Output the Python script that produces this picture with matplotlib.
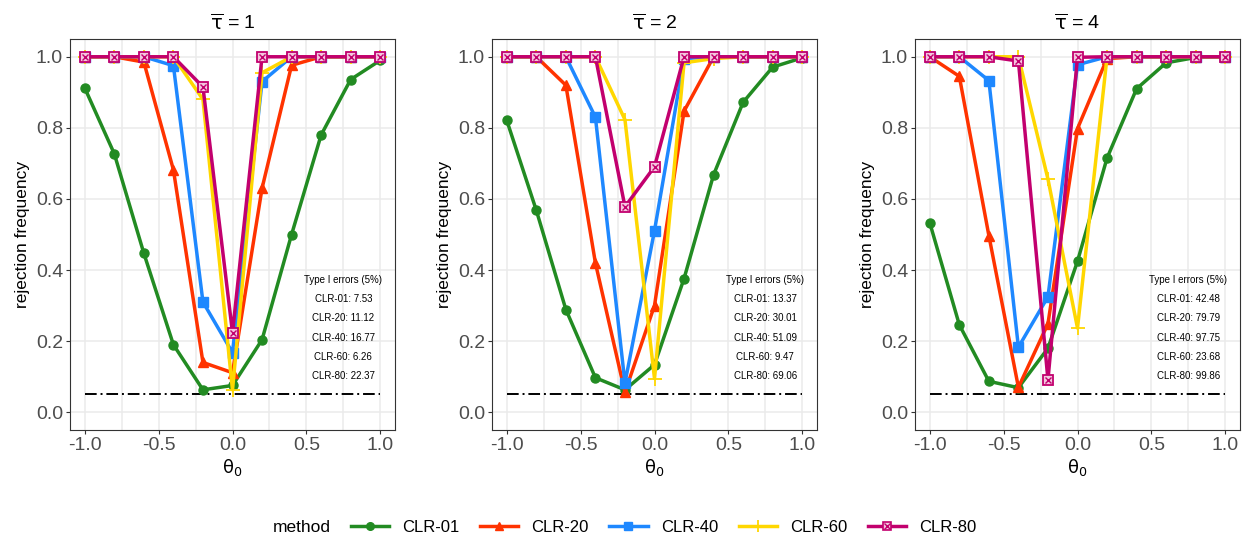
import matplotlib
matplotlib.use("Agg")
import matplotlib.pyplot as plt
from matplotlib.lines import Line2D
from matplotlib.legend_handler import HandlerTuple
import numpy as np

plt.rcParams['font.family'] = ['Liberation Sans', 'DejaVu Sans']
plt.rcParams['mathtext.fontset'] = 'dejavusans'

theta0 = [-1.0, -0.8, -0.6, -0.4, -0.2, 0.0, 0.2, 0.4, 0.6, 0.8, 1.0]
methods = ["CLR-01", "CLR-20", "CLR-40", "CLR-60", "CLR-80"]
tau_labels = ["1", "2", "4"]

# panel tau=1
p1_clr01 = [0.912, 0.727, 0.447, 0.19, 0.063, 0.0753, 0.204, 0.50, 0.78, 0.936, 0.99]
p1_clr20 = [1.0, 1.0, 0.985, 0.682, 0.14, 0.1112, 0.63, 0.976, 1.0, 1.0, 1.0]
p1_clr40 = [1.0, 1.0, 1.0, 0.975, 0.31, 0.1677, 0.93, 1.0, 1.0, 1.0, 1.0]
p1_clr60 = [1.0, 1.0, 1.0, 1.0, 0.88, 0.0626, 0.955, 1.0, 1.0, 1.0, 1.0]
p1_clr80 = [1.0, 1.0, 1.0, 1.0, 0.915, 0.2237, 1.0, 1.0, 1.0, 1.0, 1.0]
# panel tau=2
p2_clr01 = [0.821, 0.568, 0.289, 0.097, 0.063, 0.1337, 0.376, 0.668, 0.872, 0.971, 0.997]
p2_clr20 = [1.0, 1.0, 0.92, 0.42, 0.056, 0.3001, 0.847, 1.0, 1.0, 1.0, 1.0]
p2_clr40 = [1.0, 1.0, 1.0, 0.83, 0.082, 0.5109, 0.995, 1.0, 1.0, 1.0, 1.0]
p2_clr60 = [1.0, 1.0, 1.0, 1.0, 0.823, 0.0947, 0.983, 0.995, 1.0, 1.0, 1.0]
p2_clr80 = [1.0, 1.0, 1.0, 1.0, 0.578, 0.6906, 1.0, 1.0, 1.0, 1.0, 1.0]
# panel tau=4
p3_clr01 = [0.533, 0.246, 0.087, 0.069, 0.18, 0.4248, 0.715, 0.91, 0.983, 0.998, 1.0]
p3_clr20 = [1.0, 0.945, 0.497, 0.07, 0.249, 0.7979, 0.995, 1.0, 1.0, 1.0, 1.0]
p3_clr40 = [1.0, 1.0, 0.933, 0.183, 0.325, 0.9775, 1.0, 1.0, 1.0, 1.0, 1.0]
p3_clr60 = [1.0, 1.0, 1.0, 1.0, 0.656, 0.2368, 1.0, 1.0, 1.0, 1.0, 1.0]
p3_clr80 = [1.0, 1.0, 1.0, 0.988, 0.091, 0.9986, 1.0, 1.0, 1.0, 1.0, 1.0]

type1_p1 = ["7.53", "11.12", "16.77", "6.26", "22.37"]
type1_p2 = ["13.37", "30.01", "51.09", "9.47", "69.06"]
type1_p3 = ["42.48", "79.79", "97.75", "23.68", "99.86"]

panels = [
    [p1_clr01, p1_clr20, p1_clr40, p1_clr60, p1_clr80],
    [p2_clr01, p2_clr20, p2_clr40, p2_clr60, p2_clr80],
    [p3_clr01, p3_clr20, p3_clr40, p3_clr60, p3_clr80],
]
type1 = [type1_p1, type1_p2, type1_p3]

colors = ['#228B22', '#FF3300', '#1E88FF', '#FFD700', '#C2006E']
markers = ['o', '^', 's', '+', 's']

fig = plt.figure(figsize=(12.5, 5.39), dpi=100)
lefts = [70/1250, 492/1250, 915/1250]
bottom = 1 - 430/539
height = 391/539
width = 325/1250

for i, (data, t1) in enumerate(zip(panels, type1)):
    ax = fig.add_axes([lefts[i], bottom, width, height])
    ax.set_xlim(-1.1, 1.1)
    ax.set_ylim(-0.05, 1.05)
    ax.set_xticks([-1.0, -0.5, 0.0, 0.5, 1.0])
    ax.set_xticks([-0.75, -0.25, 0.25, 0.75], minor=True)
    ax.set_yticks([0.0, 0.2, 0.4, 0.6, 0.8, 1.0])
    ax.set_xticklabels(['-1.0', '-0.5', '0.0', '0.5', '1.0'])
    ax.grid(True, which='major', color='#EBEBEB', lw=1.1)
    ax.grid(True, which='minor', axis='x', color='#EBEBEB', lw=1.1)
    ax.set_axisbelow(True)
    for s in ax.spines.values():
        s.set_color('#333333')
        s.set_linewidth(0.8)
    ax.tick_params(which='major', length=3, color='#333333', labelsize=14,
                   labelcolor='#4D4D4D', pad=2)
    ax.tick_params(which='minor', length=0)
    ax.plot([-1, 1], [0.05, 0.05], color='black', ls=(0, (6, 2, 1, 2)), lw=1.4, zorder=2)
    for j, (vals, c, m) in enumerate(zip(data, colors, markers)):
        if j == 4:
            ax.plot(theta0, vals, color=c, lw=2.5, marker='s', ms=6.5, mfc='#F3C6DE',
                    mec=c, mew=1.3, zorder=3 + j)
            ax.plot(theta0, vals, ls='none', marker='x', ms=5, mec=c, mew=1.0, zorder=3 + j)
        elif j == 3:
            ax.plot(theta0, vals, color=c, lw=2.5, marker='+', ms=10, mew=1.3, zorder=3 + j)
        else:
            ax.plot(theta0, vals, color=c, lw=2.5, marker=m, ms=6.5, zorder=3 + j)
    ax.set_title(r'$\overline{\mathrm{\tau}}$ = ' + tau_labels[i], fontsize=14, pad=7)
    ax.set_xlabel(r'$\mathrm{\theta}_0$', fontsize=13, labelpad=2)
    ax.set_ylabel('rejection frequency', fontsize=12.5, labelpad=4)
    ax.text(0.75, 0.372, 'Type I errors (5%)', ha='center', va='center', fontsize=7)
    for k, (mname, v) in enumerate(zip(methods, t1)):
        ax.text(0.75, 0.318 - 0.054 * k, f'{mname}: {v}', ha='center', va='center', fontsize=7)

handles = []
for j, (c, m) in enumerate(zip(colors, markers)):
    if j == 4:
        h1 = Line2D([], [], color=c, lw=2.5, marker='s', ms=5.5, mfc='#F3C6DE', mec=c, mew=1.2)
        h2 = Line2D([], [], ls='none', marker='x', ms=4, mec=c, mew=1.0)
        handles.append((h1, h2))
    elif j == 3:
        handles.append(Line2D([], [], color=c, lw=2.5, marker='+', ms=9, mew=1.3))
    else:
        handles.append(Line2D([], [], color=c, lw=2.5, marker=m, ms=5.5))

fig.text(273/1250, 1 - 527/539, 'method', fontsize=12.5, va='center', ha='left')
fig.legend(handles, methods, ncol=5, loc='center left', bbox_to_anchor=(339/1250, 1 - 527/539),
           frameon=False, fontsize=12, handlelength=2.3, columnspacing=1.22, handletextpad=0.8,
           borderpad=0.2, handler_map={tuple: HandlerTuple(ndivide=1)})

fig.savefig('out.png', dpi=100)
